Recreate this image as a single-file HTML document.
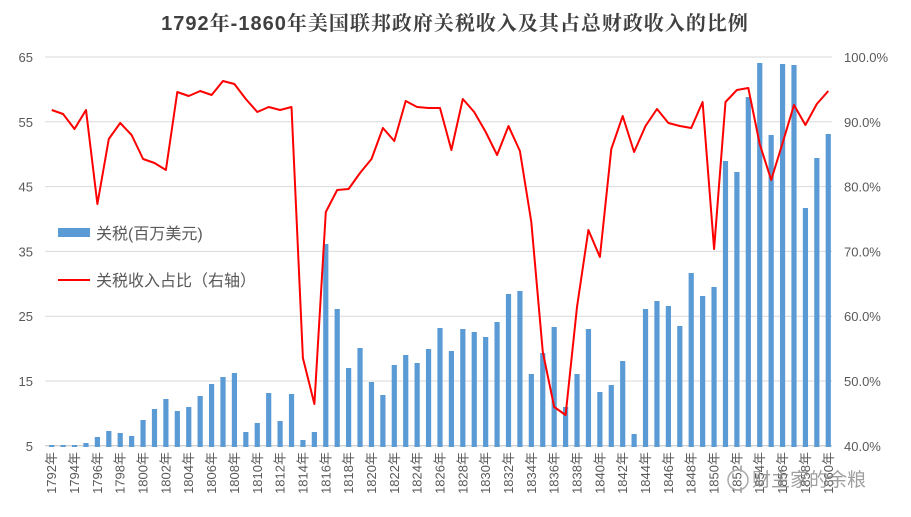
<!DOCTYPE html>
<html><head><meta charset="utf-8"><style>
body{margin:0;background:#fff;}
svg{display:block;font-family:"Liberation Sans","Noto Sans CJK SC",sans-serif;}
</style></head><body>
<svg id="c" width="911" height="517" xmlns="http://www.w3.org/2000/svg">
<rect width="911" height="517" fill="#fff"/>
<text x="455" y="30" text-anchor="middle" font-size="20" font-weight="bold" fill="#404040" font-family="'Liberation Sans','Noto Serif CJK SC',serif" letter-spacing="1">1792年-1860年美国联邦政府关税收入及其占总财政收入的比例</text>
<g id="grid"></g><g id="bars"></g><g id="lbl"></g>
<polyline id="ln" fill="none" stroke="#ff0000" stroke-width="2" stroke-linejoin="round"/>
<rect x="58" y="228" width="32" height="9" fill="#5b9bd5"/>
<text x="96" y="239" font-size="16" fill="#595959">关税(百万美元)</text>
<line x1="58" y1="280" x2="90" y2="280" stroke="#ff0000" stroke-width="2"/>
<text x="96" y="286" font-size="16" fill="#595959">关税收入占比（右轴）</text>
<text x="752" y="486" font-size="19" fill="#888" opacity="0.8">财主家的余粮</text>
<circle cx="738" cy="480" r="10" fill="none" stroke="#aaa" stroke-width="1.5"/>
</svg>
<script>
var s="http://www.w3.org/2000/svg",svg=document.getElementById('c');
function el(t,a,p,tx){var e=document.createElementNS(s,t);for(var k in a)e.setAttribute(k,a[k]);if(tx)e.textContent=tx;document.getElementById(p).appendChild(e);return e;}
var L=["65","55","45","35","25","15","5"],R=["100.0%","90.0%","80.0%","70.0%","60.0%","50.0%","40.0%"];
for(var i=0;i<7;i++){var y=57+i*64.8;
 el('line',{x1:45,x2:832,y1:y,y2:y,stroke:i==6?'#bfbfbf':'#d9d9d9','stroke-width':1},'grid');
 el('text',{x:33,y:y+5,'text-anchor':'end','font-size':13,fill:'#595959'},'grid',L[i]);
 el('text',{x:844,y:y+5,'font-size':13,fill:'#595959'},'grid',R[i]);}
var bars=[447,447,447,443,437,431,433,436,420,409,399,411,407,396,384,377,373,432,423,393,421,394,440,432,244,309,368,348,382,395,365,355,363,349,328,351,329,332,337,322,294,291,374,353,327,407,374,329,392,385,361,434,309,301,306,326,273,296,287,161,172,97,63,135,64,65,208,158,134];
var ln=[110,114,129,110,204,139,123,135,159,163,170,92,96,91,95,81,84,99,112,107,110,107,358,404,212,190,189,173,159,128,141,101,107,108,108,150,99,112,132,155,126,151,222,352,407,415,307,230,257,149,116,152,126,109,123,126,128,102,249,102,90,88,144,180,143,105,125,104,91];
var pts=[];
for(var i=0;i<69;i++){var x=51.7+i*11.42;
 var t=bars[i];if(t>445)t=445;
 el('rect',{x:x-2.6,y:t,width:5.2,height:447-t,fill:'#5b9bd5'},'bars');
 pts.push(x.toFixed(1)+','+ln[i]);
 if(i%2==0)el('text',{x:0,y:0,transform:'translate('+(x+4.5)+',452) rotate(-90)','text-anchor':'end','font-size':13,fill:'#595959'},'lbl',(1792+i)+'年');}
document.getElementById('ln').setAttribute('points',pts.join(' '));
</script>
</body></html>
